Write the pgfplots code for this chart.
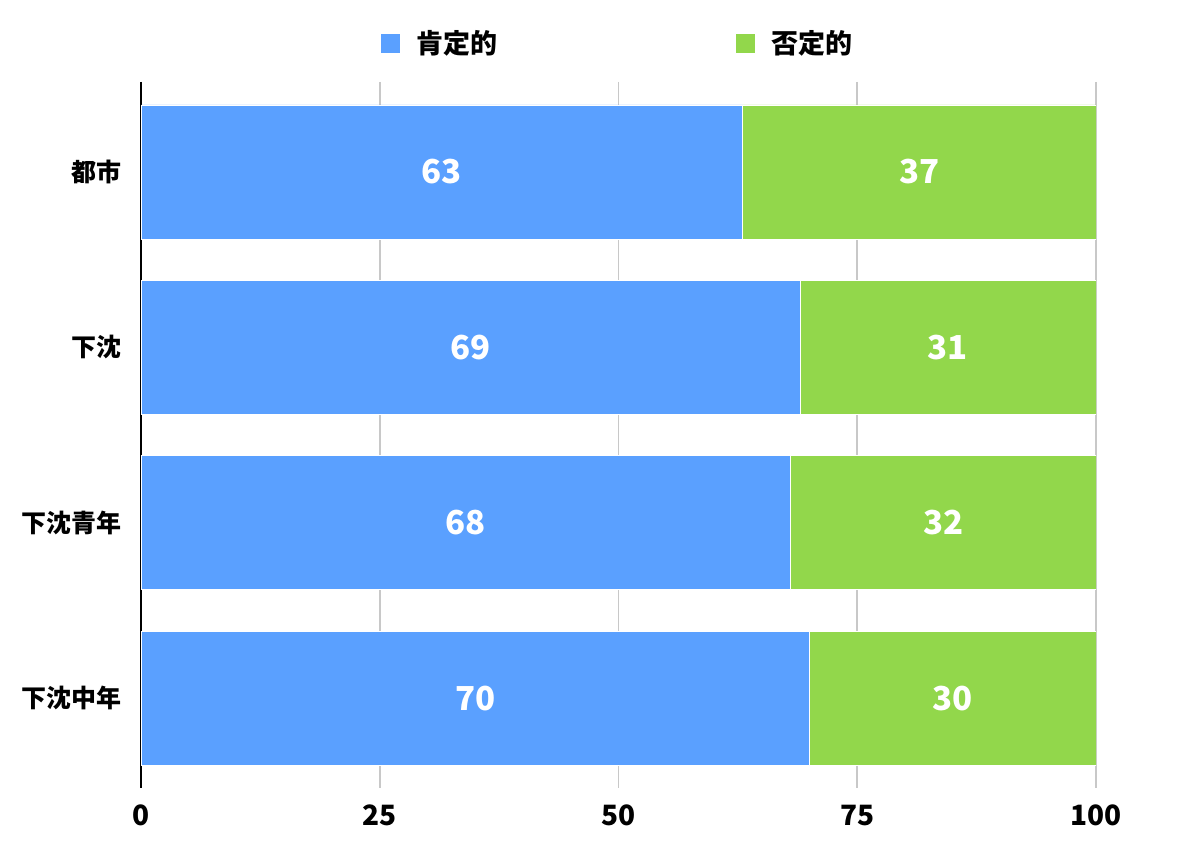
\documentclass[border=0pt]{standalone}
\usepackage{fontspec}
\setmainfont{Noto Sans CJK JP}
\usepackage{pgfplots}
\usepackage{pgfplotstable}
\pgfplotsset{compat=1.18}
\definecolor{posblue}{HTML}{5AA0FF}
\definecolor{neggreen}{HTML}{92D74B}
\definecolor{gridgray}{HTML}{C8C8C8}
\pgfplotstableread{
idx pos neg
0 63 37
1 69 31
2 68 32
3 70 30
}\datatable
\pgfplotsset{
  common/.style={
    scale only axis,
    width=477.5pt, height=353pt,
    at={(70.5pt,28.5pt)}, anchor=south west,
    xmin=0, xmax=100,
    ymin=-0.513, ymax=3.513,
    y dir=reverse,
    /pgf/number format/assume math mode=true,
  }
}
\begin{document}
\begin{tikzpicture}
\begin{axis}[
  common,
  xbar stacked,
  bar width=67pt,
  axis x line*=bottom,
  axis y line*=left,
  x axis line style={draw=none},
  y axis line style={black, line width=0.9pt},
  xtick={0,25,50,75,100},
  ytick={0,1,2,3},
  yticklabels={都市,下沈,下沈青年,下沈中年},
  major tick length=0pt,
  xmajorgrids,
  major grid style={gridgray, line width=0.8pt},
  xticklabel style={font=\bfseries\fontsize{14}{16}\selectfont, yshift=-5pt},
  yticklabel style={font=\bfseries\fontsize{12.5}{14}\selectfont, xshift=-6pt},
  legend columns=2,
  legend style={
    draw=none, fill=none, inner sep=0pt,
    at={(axis description cs:0.25,1.0794)}, anchor=north west,
    font=\bfseries\fontsize{13.5}{15}\selectfont,
    /tikz/every odd column/.append style={column sep=6pt},
    /tikz/every even column/.append style={column sep=116.5pt},
  },
  legend image code/.code={\fill[#1] (0pt,-5pt) rectangle (10pt,5pt);},
]
\addplot[fill=posblue, draw=white, line width=0.4pt] table[x=pos, y=idx] {\datatable};
\addlegendentry{肯定的}
\addplot[fill=neggreen, draw=white, line width=0.4pt] table[x=neg, y=idx] {\datatable};
\addlegendentry{否定的}
\end{axis}
\begin{axis}[
  common,
  hide axis,
  nodes near coords,
  every node near coord/.append style={anchor=center, text=white, font=\bfseries\fontsize{16.5}{18}\selectfont},
]
\addplot[draw=none, mark=none, nodes near coords, point meta=explicit] table[x expr=\thisrow{pos}/2, y=idx, meta=pos] {\datatable};
\addplot[draw=none, mark=none, nodes near coords, point meta=explicit] table[x expr=\thisrow{pos}+\thisrow{neg}/2, y=idx, meta=neg] {\datatable};
\end{axis}
\pgfresetboundingbox
\useasboundingbox (0,0) rectangle (600pt,422.5pt);
\end{tikzpicture}
\end{document}
